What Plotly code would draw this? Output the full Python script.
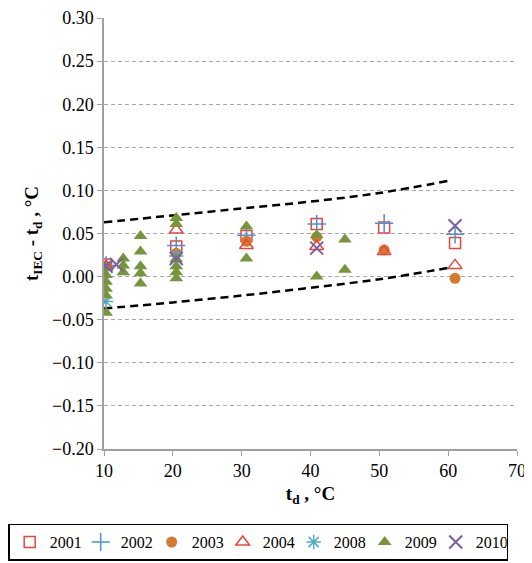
import plotly.graph_objects as go

# ---- data ----
x2001 = [10.3, 20.5, 30.7, 40.9, 50.7, 61.0]
y2001 = [0.014, 0.035, 0.047, 0.061, 0.057, 0.039]

x2002 = [10.3, 20.5, 30.7, 40.9, 50.7, 61.0]
y2002 = [0.013, 0.036, 0.048, 0.061, 0.062, 0.049]

x2003 = [10.3, 20.5, 30.7, 40.9, 50.7, 61.0]
y2003 = [0.012, 0.027, 0.041, 0.046, 0.031, -0.002]

x2004 = [10.3, 20.5, 30.7, 40.9, 50.7, 61.0]
y2004 = [0.012, 0.054, 0.036, 0.035, 0.029, 0.013]

x2008 = [10.3, 20.5]
y2008 = [-0.029, 0.024]

x2009 = [10.3, 10.3, 10.3, 10.3, 10.3, 10.3,
         12.8, 12.8, 12.8,
         15.3, 15.3, 15.3, 15.3, 15.3,
         20.5, 20.5, 20.5, 20.5, 20.5, 20.5,
         30.7, 30.7, 40.9, 40.9, 45.0, 45.0]
y2009 = [0.010, 0.002, -0.006, -0.014, -0.022, -0.042,
         0.021, 0.013, 0.005,
         0.047, 0.029, 0.012, 0.004, -0.008,
         0.068, 0.061, 0.020, 0.012, 0.005, -0.002,
         0.058, 0.021, 0.048, 0.000, 0.043, 0.008]

x2010 = [10.3, 11.8, 20.5, 40.9, 61.0]
y2010 = [0.012, 0.014, 0.021, 0.033, 0.059]

upper_x = [10, 20, 30, 40, 50, 60]
upper_y = [0.063, 0.071, 0.079, 0.087, 0.097, 0.111]
lower_x = [10, 20, 30, 40, 50, 60]
lower_y = [-0.037, -0.030, -0.022, -0.013, -0.003, 0.010]

x_ticks = [10, 20, 30, 40, 50, 60, 70]

SERIF = "Liberation Serif, Times New Roman, serif"

fig = go.Figure()

fig.add_trace(go.Scatter(x=upper_x, y=upper_y, mode="lines", showlegend=False,
                         line=dict(color="black", width=2.5, dash="8px,5px"), line_shape="spline"))
fig.add_trace(go.Scatter(x=lower_x, y=lower_y, mode="lines", showlegend=False,
                         line=dict(color="black", width=2.5, dash="8px,5px"), line_shape="spline"))

series = [
    ("2001", x2001, y2001, dict(symbol="square-open", size=11, color="#E8453F", line=dict(width=1.5))),
    ("2002", x2002, y2002, dict(symbol="cross-thin-open", size=13, color="#4A8FD8", line=dict(width=1.5, color="#4A8FD8"))),
    ("2003", x2003, y2003, dict(symbol="circle", size=11, color="#D5792F")),
    ("2004", x2004, y2004, dict(symbol="triangle-up-open", size=12, color="#E8453F", line=dict(width=1.5))),
    ("2008", x2008, y2008, dict(symbol="asterisk-open", size=12, color="#4BACC6", line=dict(width=1.5, color="#4BACC6"))),
    ("2009", x2009, y2009, dict(symbol="triangle-up", size=12, color="#77953D")),
    ("2010", x2010, y2010, dict(symbol="x-thin-open", size=13, color="#7A5FA6", line=dict(width=2, color="#7A5FA6"))),
]
for name, xs, ys, mk in series:
    fig.add_trace(go.Scatter(x=xs, y=ys, mode="markers", name=name, marker=mk))

fig.update_layout(
    width=524, height=555,
    margin=dict(l=96, r=15, t=10, b=114, autoexpand=False),
    paper_bgcolor="white", plot_bgcolor="white",
    font=dict(family=SERIF, size=18, color="black"),
    xaxis=dict(range=[10, 70], tickvals=x_ticks, showgrid=False, zeroline=False,
               showline=True, linecolor="#A0A0A0", linewidth=1.5,
               ticks="outside", ticklen=5, tickcolor="#A0A0A0",
               tickfont=dict(family=SERIF, size=18), ticklabeloverflow="allow",
               title=dict(text="<b>t<sub>d</sub> , °C</b>", font=dict(family=SERIF, size=19), standoff=6)),
    yaxis=dict(range=[-0.2, 0.3], dtick=0.05, tickformat=".2f", showgrid=True,
               gridcolor="#A8A8A8", griddash="4px,3px", gridwidth=1, zeroline=False,
               showline=True, linecolor="#A0A0A0", linewidth=1.5,
               ticks="outside", ticklen=5, tickcolor="#A0A0A0",
               tickfont=dict(family=SERIF, size=18), ticklabeloverflow="allow",
               title=dict(text="<b>t<sub>IEC</sub> - t<sub>d</sub> , °C</b>", font=dict(family=SERIF, size=19), standoff=8)),
    legend=dict(orientation="h", xref="paper", yref="paper",
                x=-0.232, xanchor="left", y=-0.216, yanchor="middle",
                bordercolor="black", borderwidth=1.5, bgcolor="white",
                font=dict(family=SERIF, size=16), itemwidth=30, tracegroupgap=0,
                entrywidthmode="pixels", entrywidth=26),
)

fig.write_html("out.html")
